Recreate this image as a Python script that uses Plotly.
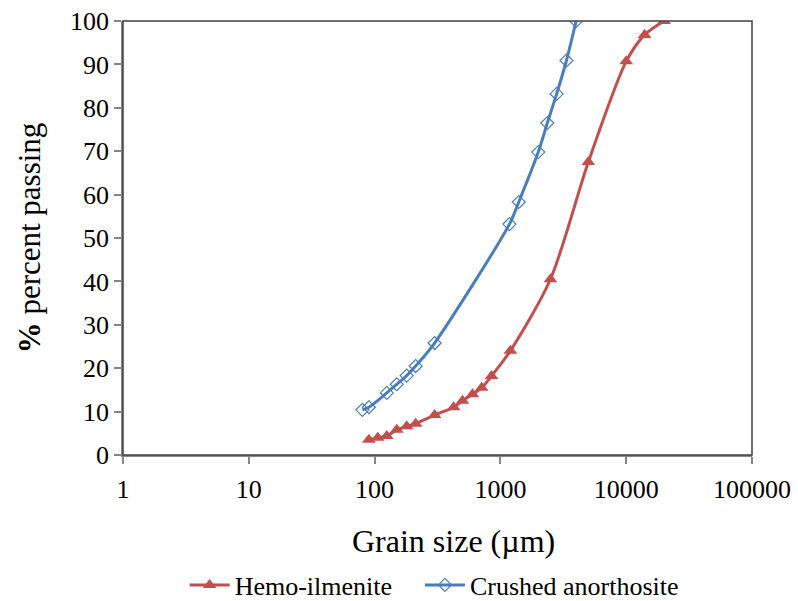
import plotly.graph_objects as go

# Data (grain size in micrometres, cumulative % passing)
hemo_size = [90, 106, 125, 150, 180, 212, 300, 425, 500, 600, 710, 850, 1200, 2500, 5000, 10000, 14000, 20000]
hemo_pass = [3.5, 4.0, 4.4, 5.8, 6.6, 7.2, 9.2, 11.0, 12.5, 14.0, 15.5, 18.2, 24.0, 40.5, 67.5, 90.7, 96.8, 100]

anor_size = [80, 90, 125, 150, 180, 212, 300, 1180, 1400, 2000, 2360, 2800, 3350, 4000]
anor_pass = [10.4, 11.0, 14.3, 16.3, 18.3, 20.5, 25.8, 53.2, 58.3, 69.8, 76.5, 83.2, 90.9, 100]

x_ticks = [1, 10, 100, 1000, 10000, 100000]
y_ticks = [0, 10, 20, 30, 40, 50, 60, 70, 80, 90, 100]

RED = "#C0504D"
BLUE = "#4A7EBB"
FONT = "Liberation Serif"

fig = go.Figure()
fig.add_trace(go.Scatter(
    x=hemo_size, y=hemo_pass, name="Hemo-ilmenite",
    mode="lines+markers", legend="legend",
    line=dict(color=RED, width=3, shape="spline", smoothing=0.8),
    marker=dict(symbol="triangle-up", size=12, color=RED),
))
fig.add_trace(go.Scatter(
    x=anor_size, y=anor_pass, name="Crushed anorthosite",
    mode="lines+markers", legend="legend2",
    line=dict(color=BLUE, width=3, shape="spline", smoothing=0.8),
    marker=dict(symbol="diamond-open", size=10, color=BLUE, line=dict(width=1.2, color=BLUE)),
))

leg_common = dict(orientation="h", xref="paper", yref="paper", y=-0.2995, yanchor="middle",
                  xanchor="left", font=dict(size=26, family=FONT, color="black"),
                  itemwidth=40, bgcolor="rgba(0,0,0,0)")

fig.update_layout(
    width=798, height=601,
    margin=dict(l=123, r=46, t=21, b=146, autoexpand=False),
    paper_bgcolor="white", plot_bgcolor="white",
    font=dict(family=FONT, size=26, color="black"),
    showlegend=True,
    legend=dict(x=0.098, **leg_common),
    legend2=dict(x=0.472, **leg_common),
    shapes=[dict(type="rect", xref="paper", yref="paper", x0=0, x1=1, y0=0, y1=1,
                 line=dict(color="#404040", width=1.5), layer="above")],
    annotations=[dict(text="Grain size (µm)", xref="paper", yref="paper",
                      x=0.526, y=-0.198, xanchor="center", yanchor="middle",
                      showarrow=False, font=dict(size=32, family=FONT, color="black"))],
)
fig.update_xaxes(
    type="log", range=[0, 5], tickvals=x_ticks, ticktext=[str(v) for v in x_ticks],
    showgrid=False, zeroline=False,
    showline=True, linecolor="#868686", linewidth=1.5,
    ticks="outside", ticklen=7, tickcolor="#868686", tickwidth=1.5,
    tickfont=dict(size=26, family=FONT, color="black"), ticklabelstandoff=3,
)
fig.update_yaxes(
    range=[0, 100], tickvals=y_ticks,
    showgrid=False, zeroline=False,
    showline=True, linecolor="#868686", linewidth=1.5,
    ticks="outside", ticklen=7, tickcolor="#868686", tickwidth=1.5,
    tickfont=dict(size=26, family=FONT, color="black"),
    title=dict(text="<b>%</b> percent passing", font=dict(size=31, family=FONT, color="black"), standoff=20),
)

fig.write_html("out.html")
